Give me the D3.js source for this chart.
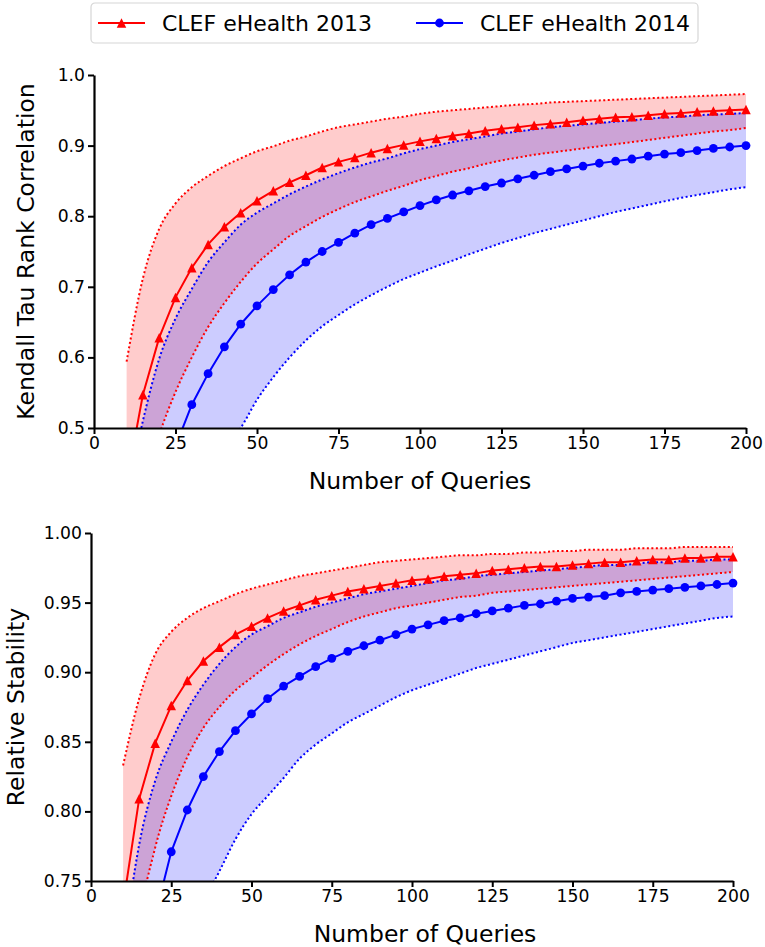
<!DOCTYPE html>
<html>
<head>
<meta charset="utf-8">
<script src="https://cdn.jsdelivr.net/npm/d3@7/dist/d3.min.js"></script>
<style>
  body { margin: 0; background: #fff; }
  svg text { font-family: "DejaVu Sans", sans-serif; fill: #000; }
</style>
</head>
<body>
<svg id="chart" width="765" height="947"></svg>
<script>
// number of queries (x values shared by every series)
const queries = [10, 15, 20, 25, 30, 35, 40, 45, 50, 55, 60, 65, 70, 75, 80, 85, 90, 95, 100,
  105, 110, 115, 120, 125, 130, 135, 140, 145, 150, 155, 160, 165, 170, 175, 180, 185, 190, 195, 200];

const xTicks = [0, 25, 50, 75, 100, 125, 150, 175, 200];
const tauTicks = [0.5, 0.6, 0.7, 0.8, 0.9, 1.0];
const stabTicks = [0.75, 0.80, 0.85, 0.90, 0.95, 1.00];

const seriesNames = ["CLEF eHealth 2013", "CLEF eHealth 2014"];

// Kendall tau, 2013
const tauMean2013 = [0.423, 0.547, 0.628, 0.685, 0.727, 0.760, 0.785, 0.805, 0.822, 0.836, 0.848, 0.858, 0.869, 0.877, 0.883, 0.890, 0.896, 0.901, 0.906,
  0.910, 0.914, 0.917, 0.921, 0.924, 0.926, 0.929, 0.931, 0.933, 0.936, 0.938, 0.940, 0.941, 0.943, 0.945, 0.946, 0.948, 0.949, 0.950, 0.951];
const tauHigh2013 = [0.594, 0.712, 0.782, 0.818, 0.841, 0.857, 0.871, 0.882, 0.892, 0.899, 0.907, 0.913, 0.920, 0.926, 0.930, 0.934, 0.938, 0.941, 0.945,
  0.948, 0.950, 0.952, 0.954, 0.956, 0.958, 0.959, 0.961, 0.962, 0.963, 0.964, 0.965, 0.966, 0.967, 0.968, 0.969, 0.970, 0.971, 0.972, 0.973];
const tauLow2013 = [0.300, 0.410, 0.490, 0.551, 0.600, 0.643, 0.677, 0.707, 0.733, 0.753, 0.772, 0.786, 0.799, 0.810, 0.820, 0.828, 0.836, 0.843, 0.851,
  0.857, 0.863, 0.868, 0.874, 0.879, 0.883, 0.887, 0.890, 0.893, 0.896, 0.899, 0.902, 0.905, 0.908, 0.911, 0.914, 0.917, 0.920, 0.922, 0.925];

// Kendall tau, 2014
const tauMean2014 = [0.150, 0.270, 0.380, 0.474, 0.533, 0.577, 0.615, 0.647, 0.673, 0.696, 0.717, 0.735, 0.750, 0.763, 0.776, 0.788, 0.797, 0.806, 0.815,
  0.823, 0.830, 0.836, 0.842, 0.847, 0.853, 0.858, 0.863, 0.867, 0.871, 0.875, 0.878, 0.881, 0.885, 0.888, 0.890, 0.893, 0.896, 0.898, 0.900];
const tauHigh2014 = [0.400, 0.510, 0.598, 0.655, 0.697, 0.735, 0.763, 0.788, 0.805, 0.818, 0.831, 0.842, 0.852, 0.861, 0.869, 0.876, 0.882, 0.889, 0.895,
  0.900, 0.905, 0.909, 0.913, 0.917, 0.920, 0.923, 0.926, 0.928, 0.930, 0.932, 0.934, 0.936, 0.938, 0.940, 0.941, 0.943, 0.944, 0.945, 0.946];
const tauLow2014 = [0.100, 0.200, 0.280, 0.350, 0.400, 0.440, 0.470, 0.500, 0.540, 0.572, 0.600, 0.624, 0.644, 0.660, 0.675, 0.688, 0.700, 0.711, 0.720,
  0.729, 0.737, 0.746, 0.754, 0.762, 0.769, 0.776, 0.782, 0.788, 0.794, 0.800, 0.806, 0.811, 0.816, 0.821, 0.826, 0.830, 0.834, 0.838, 0.841];

// relative stability, 2013
const stabMean2013 = [0.733, 0.809, 0.849, 0.876, 0.894, 0.908, 0.918, 0.927, 0.933, 0.939, 0.944, 0.948, 0.952, 0.955, 0.958, 0.960, 0.962, 0.964, 0.966,
  0.967, 0.969, 0.970, 0.971, 0.973, 0.974, 0.975, 0.976, 0.976, 0.977, 0.978, 0.979, 0.979, 0.980, 0.981, 0.981, 0.982, 0.982, 0.983, 0.983];
const stabHigh2013 = [0.833, 0.881, 0.913, 0.929, 0.939, 0.946, 0.951, 0.956, 0.960, 0.963, 0.966, 0.969, 0.971, 0.973, 0.975, 0.977, 0.979, 0.980, 0.981,
  0.982, 0.983, 0.984, 0.984, 0.985, 0.985, 0.986, 0.986, 0.987, 0.987, 0.988, 0.988, 0.988, 0.989, 0.989, 0.989, 0.990, 0.990, 0.990, 0.990];
const stabLow2013 = [0.620, 0.720, 0.774, 0.811, 0.839, 0.860, 0.875, 0.887, 0.896, 0.905, 0.913, 0.920, 0.926, 0.931, 0.936, 0.940, 0.943, 0.946, 0.948,
  0.950, 0.952, 0.954, 0.955, 0.957, 0.958, 0.959, 0.960, 0.961, 0.962, 0.963, 0.964, 0.965, 0.966, 0.967, 0.968, 0.969, 0.970, 0.971, 0.972];

// relative stability, 2014
const stabMean2014 = [0.600, 0.670, 0.725, 0.771, 0.801, 0.825, 0.843, 0.858, 0.870, 0.881, 0.890, 0.897, 0.904, 0.910, 0.915, 0.919, 0.923, 0.927, 0.931,
  0.934, 0.937, 0.939, 0.942, 0.944, 0.946, 0.948, 0.949, 0.951, 0.953, 0.954, 0.955, 0.957, 0.958, 0.959, 0.960, 0.961, 0.962, 0.963, 0.964];
const stabHigh2014 = [0.700, 0.776, 0.822, 0.850, 0.873, 0.891, 0.906, 0.918, 0.927, 0.933, 0.939, 0.943, 0.947, 0.950, 0.953, 0.956, 0.958, 0.960, 0.962,
  0.964, 0.966, 0.967, 0.969, 0.970, 0.971, 0.972, 0.973, 0.974, 0.975, 0.976, 0.977, 0.977, 0.978, 0.979, 0.979, 0.980, 0.980, 0.981, 0.981];
const stabLow2014 = [0.550, 0.610, 0.650, 0.685, 0.710, 0.735, 0.757, 0.780, 0.798, 0.811, 0.824, 0.838, 0.848, 0.856, 0.864, 0.870, 0.876, 0.882, 0.887,
  0.891, 0.895, 0.899, 0.903, 0.906, 0.909, 0.912, 0.915, 0.918, 0.921, 0.923, 0.925, 0.927, 0.929, 0.931, 0.933, 0.935, 0.937, 0.939, 0.940];

const RED = "#ff0000", BLUE = "#0000ff";
const svg = d3.select("#chart");

const triangle = s => `M0,${-s / 2}L${s / 2},${s / 2}L${-s / 2},${s / 2}Z`;

function drawPanel(cfg) {
  const x = d3.scaleLinear().domain([0, 200]).range([cfg.left, cfg.right]);
  const y = d3.scaleLinear().domain(cfg.yDomain).range([cfg.bottom, cfg.top]);

  svg.append("defs").append("clipPath").attr("id", "clip-" + cfg.id)
    .append("rect")
    .attr("x", cfg.left).attr("y", cfg.top - 10)
    .attr("width", cfg.right - cfg.left + 6).attr("height", cfg.bottom - cfg.top + 10);

  const plot = svg.append("g").attr("clip-path", `url(#clip-${cfg.id})`);

  const rowsOf = s => queries.map((q, i) => ({ q: q, m: s.mean[i], lo: s.low[i], hi: s.high[i] }));

  // shaded bands
  cfg.series.forEach(s => {
    plot.append("path")
      .datum(rowsOf(s))
      .attr("d", d3.area().x(d => x(d.q)).y0(d => y(d.lo)).y1(d => y(d.hi)).curve(d3.curveMonotoneX))
      .attr("fill", s.color)
      .attr("fill-opacity", 0.2);
  });

  // dotted band edges
  cfg.series.forEach(s => {
    ["lo", "hi"].forEach(k => {
      plot.append("path")
        .datum(rowsOf(s))
        .attr("d", d3.line().x(d => x(d.q)).y(d => y(d[k])).curve(d3.curveMonotoneX))
        .attr("fill", "none")
        .attr("stroke", s.color)
        .attr("stroke-width", 2)
        .attr("stroke-dasharray", "2,2.5");
    });
  });

  // mean lines and markers
  cfg.series.forEach(s => {
    const rows = rowsOf(s);
    plot.append("path")
      .datum(rows)
      .attr("d", d3.line().x(d => x(d.q)).y(d => y(d.m)))
      .attr("fill", "none")
      .attr("stroke", s.color)
      .attr("stroke-width", 2);

    const marks = plot.selectAll(null).data(rows).enter();
    if (s.marker === "triangle") {
      marks.append("path")
        .attr("d", triangle(9.5))
        .attr("transform", d => `translate(${x(d.q)},${y(d.m)})`)
        .attr("fill", s.color);
    } else {
      marks.append("circle")
        .attr("cx", d => x(d.q))
        .attr("cy", d => y(d.m))
        .attr("r", 4.4)
        .attr("fill", s.color);
    }
  });

  // axes
  const xAxis = svg.append("g")
    .attr("transform", `translate(0,${cfg.bottom})`)
    .call(d3.axisBottom(x).tickValues(xTicks).tickSize(6).tickSizeOuter(0).tickPadding(3));
  const yAxis = svg.append("g")
    .attr("transform", `translate(${cfg.left},0)`)
    .call(d3.axisLeft(y).tickValues(cfg.yTicks).tickFormat(d3.format(cfg.fmt)).tickSize(6).tickSizeOuter(0).tickPadding(3));

  [xAxis, yAxis].forEach(a => {
    a.select(".domain").attr("stroke", "#000").attr("stroke-width", 2.2);
    a.selectAll(".tick line").attr("stroke", "#000").attr("stroke-width", 2);
    a.selectAll(".tick text").style("font-size", "17.2px").style("font-family", "DejaVu Sans");
  });

  svg.append("text")
    .attr("x", cfg.xLabelX).attr("y", cfg.bottom + 61)
    .attr("text-anchor", "middle")
    .style("font-size", "23.5px")
    .text("Number of Queries");

  svg.append("text")
    .attr("transform", `translate(${cfg.yLabelX},${(cfg.top + cfg.bottom) / 2}) rotate(-90)`)
    .attr("text-anchor", "middle")
    .style("font-size", "23.5px")
    .text(cfg.yLabel);
}

drawPanel({
  id: "tau", left: 94, right: 746, top: 75, bottom: 428,
  yDomain: [0.5, 1.0], yTicks: tauTicks, fmt: ".1f",
  yLabel: "Kendall Tau Rank Correlation", yLabelX: 34, xLabelX: 420,
  series: [
    { color: RED, marker: "triangle", mean: tauMean2013, low: tauLow2013, high: tauHigh2013 },
    { color: BLUE, marker: "circle", mean: tauMean2014, low: tauLow2014, high: tauHigh2014 }
  ]
});

drawPanel({
  id: "stab", left: 91, right: 733, top: 533, bottom: 881,
  yDomain: [0.75, 1.0], yTicks: stabTicks, fmt: ".2f",
  yLabel: "Relative Stability", yLabelX: 24, xLabelX: 425,
  series: [
    { color: RED, marker: "triangle", mean: stabMean2013, low: stabLow2013, high: stabHigh2013 },
    { color: BLUE, marker: "circle", mean: stabMean2014, low: stabLow2014, high: stabHigh2014 }
  ]
});

// legend
const legend = svg.append("g");
legend.append("rect")
  .attr("x", 91).attr("y", 3).attr("width", 607).attr("height", 40)
  .attr("rx", 4)
  .attr("fill", "#fff")
  .attr("stroke", "#d6d6d6")
  .attr("stroke-width", 1.2);

const legendItems = [
  { name: seriesNames[0], color: RED, marker: "triangle", x0: 98 },
  { name: seriesNames[1], color: BLUE, marker: "circle", x0: 416 }
];
legendItems.forEach(it => {
  const g = legend.append("g");
  g.append("line")
    .attr("x1", it.x0).attr("x2", it.x0 + 47)
    .attr("y1", 23).attr("y2", 23)
    .attr("stroke", it.color).attr("stroke-width", 2);
  if (it.marker === "triangle") {
    g.append("path").attr("d", triangle(9.5))
      .attr("transform", `translate(${it.x0 + 23.5},23)`)
      .attr("fill", it.color);
  } else {
    g.append("circle").attr("cx", it.x0 + 23.5).attr("cy", 23).attr("r", 4.4).attr("fill", it.color);
  }
  g.append("text")
    .attr("x", it.x0 + 64).attr("y", 31)
    .style("font-size", "22px")
    .text(it.name);
});
</script>
</body>
</html>
